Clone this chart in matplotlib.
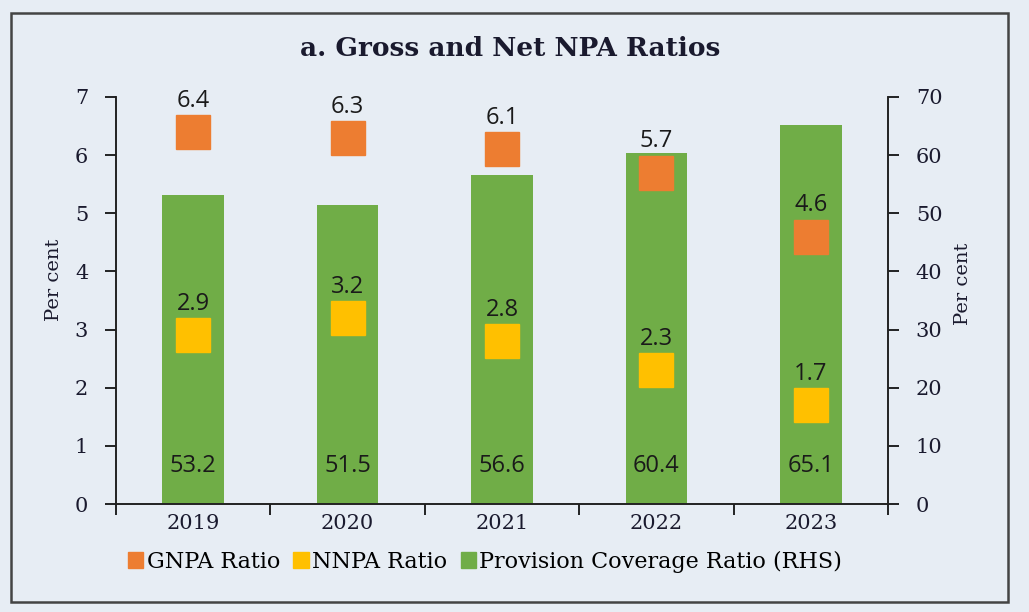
import matplotlib
matplotlib.use("Agg")
import matplotlib.pyplot as plt
from matplotlib.patches import Rectangle
from matplotlib.patches import Patch

years = ["2019", "2020", "2021", "2022", "2023"]
gnpa = [6.4, 6.3, 6.1, 5.7, 4.6]
nnpa = [2.9, 3.2, 2.8, 2.3, 1.7]
pcr = [53.2, 51.5, 56.6, 60.4, 65.1]

BG = "#e7edf4"
GREEN = "#70ad47"
ORANGE = "#ed7d31"
YELLOW = "#ffc000"
SERIF = "DejaVu Serif"
SANS = "Open Sans"
TXT = "#1a1a2e"

fig = plt.figure(figsize=(10.29, 6.12), dpi=100, facecolor=BG)
fig.patches.append(Rectangle((11/1029, 1 - 602/612), (1008-11)/1029, (602-13)/612,
                             transform=fig.transFigure, fill=False,
                             edgecolor="#444444", linewidth=1.8))

ax = fig.add_axes([116/1029, 1 - 504/612, (888-116)/1029, (504-97)/612])
ax.set_facecolor(BG)
ax2 = ax.twinx()
ax.set_zorder(ax2.get_zorder() + 1)
ax.patch.set_visible(False)
ax2.set_facecolor(BG)

x = list(range(len(years)))
ax2.bar(x, pcr, width=0.4, color=GREEN, zorder=2)
ax2.set_ylim(0, 70)
ax2.set_yticks(range(0, 71, 10))
for xi, v in zip(x, pcr):
    ax.text(xi, 0.66, f"{v}", ha="center", va="center", fontsize=17,
            family=SANS, color="#1a1a1a")

ax.plot(x, gnpa, linestyle="none", marker="s", markersize=24, color=ORANGE, zorder=3)
ax.plot(x, nnpa, linestyle="none", marker="s", markersize=24, color=YELLOW, zorder=3)
for xi, g, n in zip(x, gnpa, nnpa):
    ax.text(xi, g + 0.33, f"{g}", ha="center", va="bottom", fontsize=17,
            family=SANS, color="#1a1a1a")
    ax.text(xi, n + 0.33, f"{n}", ha="center", va="bottom", fontsize=17,
            family=SANS, color="#1a1a1a")

ax.set_ylim(0, 7)
ax.set_xlim(-0.5, len(years) - 0.5)
ax.set_yticks(range(0, 8))
ax.set_xticks([i - 0.5 for i in range(len(years) + 1)])
ax.set_xticklabels([])
ax.set_xticks(x, minor=True)
ax.set_xticklabels(years, minor=True)
ax.tick_params(axis="x", which="minor", length=0, pad=7)
ax.tick_params(axis="x", which="major", length=8, width=1.2, direction="out")
ax.tick_params(axis="y", length=8, width=1.2, direction="out", pad=12)
ax2.tick_params(axis="y", length=8, width=1.2, direction="out", pad=12)

for a in (ax, ax2):
    a.spines["top"].set_visible(False)
    for s in ("left", "right", "bottom"):
        a.spines[s].set_linewidth(1.2)
        a.spines[s].set_color("#222222")
    for lab in a.get_yticklabels() + a.get_xticklabels(which="both"):
        lab.set_fontfamily(SERIF)
        lab.set_fontsize(15)
        lab.set_color(TXT)

ax.set_ylabel("Per cent", family=SERIF, fontsize=14, color=TXT)
ax2.set_ylabel("Per cent", family=SERIF, fontsize=14, color=TXT)
ax.yaxis.set_label_coords(-0.069, 0.55)
ax2.yaxis.set_label_coords(1.086, 0.54)

fig.text(510/1029, 1 - 49/612, "a. Gross and Net NPA Ratios", ha="center", va="center",
         family=SERIF, fontsize=19, fontweight="bold", color=TXT)

handles = [Patch(color=ORANGE), Patch(color=YELLOW), Patch(color=GREEN)]
labels = ["GNPA Ratio", "NNPA Ratio", "Provision Coverage Ratio (RHS)"]
fig.legend(handles, labels, loc="center", bbox_to_anchor=(485/1029, 1 - 562/612),
           ncol=3, frameon=False, prop={"family": SERIF, "size": 16},
           handlelength=0.7, handleheight=0.7, handletextpad=0.15, columnspacing=0.6)

fig.savefig("out.png", dpi=100, facecolor=BG)
